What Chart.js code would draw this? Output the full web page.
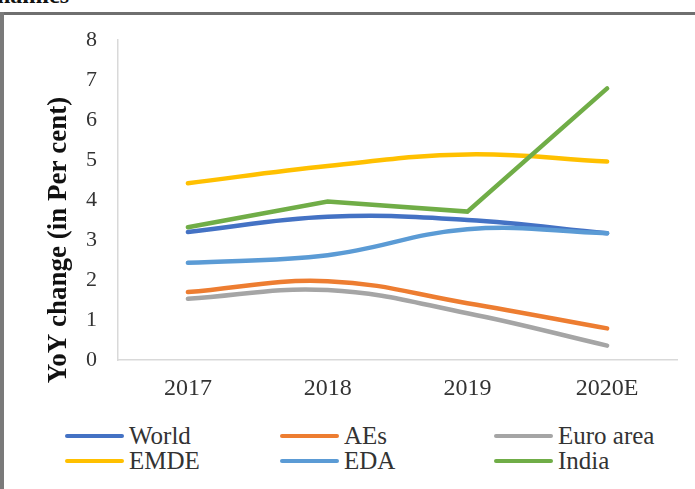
<!DOCTYPE html>
<html>
<head>
<meta charset="utf-8">
<script src="https://cdn.jsdelivr.net/npm/chart.js@4.4.1/dist/chart.umd.min.js"></script>
<style>
  body {
    margin: 0;
    width: 695px;
    height: 489px;
    background: #fff;
    overflow: hidden;
    position: relative;
    font-family: "Liberation Serif", "Times New Roman", serif;
  }
  #wrap { position: absolute; left: 0; top: 0; width: 695px; height: 400px; }
  .frame-top { position: absolute; left: 0; top: 12px; width: 695px; height: 3px; background: #6f6f6f; }
  .frame-left { position: absolute; left: 0; top: 12px; width: 4px; height: 477px; background: #7a7a7a; }
  .cut-title { position: absolute; left: -3px; top: -18px; font-weight: bold; font-size: 24px; color: #111; }
  .item { position: absolute; display: flex; align-items: center; font-size: 25px; line-height: 26px; color: #333; }
  .swatch { width: 59px; height: 4px; border-radius: 2px; margin-right: 5px; }
</style>
</head>
<body>
<div class="cut-title">namics</div>
<div id="wrap"><canvas id="growthChart"></canvas></div>
<div id="legend"></div>
<div class="frame-top"></div>
<div class="frame-left"></div>

<script>
const years = ["2017", "2018", "2019", "2020E"];

const world = [3.2, 3.58, 3.5, 3.17];
const aes = [1.7, 1.97, 1.42, 0.79];
const euroArea = [1.53, 1.75, 1.17, 0.36];
const emde = [4.42, 4.85, 5.14, 4.96];
const eda = [2.43, 2.62, 3.27, 3.17];
const india = [3.32, 3.96, 3.71, 6.79];

const seriesNames = ["World", "AEs", "Euro area", "EMDE", "EDA", "India"];
const seriesValues = [world, aes, euroArea, emde, eda, india];
const seriesColors = ["#4472C4", "#ED7D31", "#A5A5A5", "#FFC000", "#5B9BD5", "#70AD47"];

const yTicks = [0, 1, 2, 3, 4, 5, 6, 7, 8];

const serif = "'Liberation Serif', 'Times New Roman', serif";

const yTitle = {
  id: "yTitle",
  afterDraw(chart) {
    const ctx = chart.ctx;
    ctx.save();
    ctx.translate(59, 240);
    ctx.rotate(-Math.PI / 2);
    ctx.font = "bold 27px " + serif;
    ctx.fillStyle = "#111";
    ctx.textAlign = "center";
    ctx.textBaseline = "middle";
    ctx.fillText("YoY change (in Per cent)", 0, 0);
    ctx.restore();
  },
};

function buildLegend() {
  const legend = document.getElementById("legend");
  const cols = [65, 280, 494];
  const rows = [436, 461];
  seriesNames.forEach((name, i) => {
    const item = document.createElement("div");
    item.className = "item";
    item.style.left = cols[i % 3] + "px";
    item.style.top = rows[Math.floor(i / 3)] - 13 + "px";

    const swatch = document.createElement("span");
    swatch.className = "swatch";
    swatch.style.background = seriesColors[i];

    const label = document.createElement("span");
    label.textContent = name;

    item.appendChild(swatch);
    item.appendChild(label);
    legend.appendChild(item);
  });
}

function createChart() {
  const ctx = document.getElementById("growthChart").getContext("2d");

  new Chart(ctx, {
    type: "line",
    data: {
      labels: years,
      datasets: seriesNames.map((name, i) => ({
        label: name,
        data: seriesValues[i],
        borderColor: seriesColors[i],
        borderWidth: 4.5,
        borderCapStyle: "round",
        pointRadius: 0,
        fill: false,
        tension: name === "India" ? 0 : 0.4,
        order: seriesNames.length - i,
      })),
    },
    options: {
      responsive: true,
      maintainAspectRatio: false,
      animation: false,
      layout: {
        padding: { top: 40, right: 18, bottom: 0, left: 10 },
      },
      plugins: {
        legend: { display: false },
        tooltip: { enabled: false },
      },
      scales: {
        x: {
          offset: true,
          grid: { display: false, drawTicks: false },
          border: { color: "#d9d9d9", width: 1.5 },
          ticks: {
            color: "#333",
            padding: 14,
            font: { size: 24, family: serif },
          },
          afterFit: (scale) => {
            scale.height = 40;
          },
        },
        y: {
          min: 0,
          max: 8,
          afterBuildTicks: (scale) => {
            scale.ticks = yTicks.map((v) => ({ value: v }));
          },
          grid: { display: false, drawTicks: false },
          border: { color: "#d9d9d9", width: 1.5 },
          ticks: {
            color: "#333",
            padding: 21,
            font: { size: 22, family: serif },
          },
          afterFit: (scale) => {
            scale.width = 108;
          },
        },
      },
    },
    plugins: [yTitle],
  });
}

document.addEventListener("DOMContentLoaded", () => {
  buildLegend();
  createChart();
});
</script>
</body>
</html>
